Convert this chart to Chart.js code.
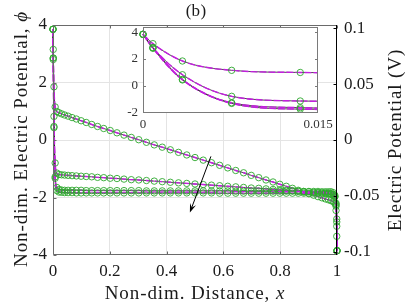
<!DOCTYPE html>
<html><head><meta charset="utf-8">
<script src="https://cdn.jsdelivr.net/npm/chart.js@4.4.0/dist/chart.umd.min.js"></script>
<style>
html,body{margin:0;padding:0;background:#fff;}
#wrap{position:relative;width:407px;height:305px;overflow:hidden;}
#wrap canvas{position:absolute;left:0;top:0;}
</style></head><body>
<div id="wrap"><canvas id="main" width="407" height="305"></canvas><canvas id="inset" width="407" height="305"></canvas></div>
<script>
// ---- data ----
const xMesh = [0, 0.00085, 0.00338, 0.0076, 0.01348, 0.02101, 0.03015, 0.0409, 0.05319, 0.06699,
  0.08226, 0.09894, 0.11698, 0.13631, 0.15688, 0.17861, 0.20142, 0.22525, 0.25, 0.2756,
  0.30196, 0.32899, 0.3566, 0.3847, 0.41318, 0.44195, 0.47093, 0.5, 0.52907, 0.55805,
  0.58682, 0.6153, 0.6434, 0.67101, 0.69804, 0.7244, 0.75, 0.77475, 0.79858, 0.82139,
  0.84312, 0.86369, 0.88302, 0.90106, 0.91774, 0.93301, 0.94681, 0.9591, 0.96985, 0.97899,
  0.98652, 0.9924, 0.99662, 0.99915, 1];
const phiA = [3.85, 3.15, 1.85, 1.15, 0.99, 0.95, 0.91, 0.87, 0.83, 0.78,
  0.73, 0.67, 0.61, 0.54, 0.47, 0.40, 0.33, 0.25, 0.17, 0.09,
  0.01, -0.08, -0.17, -0.25, -0.34, -0.43, -0.52, -0.61, -0.70, -0.79,
  -0.88, -0.97, -1.06, -1.14, -1.23, -1.31, -1.39, -1.46, -1.54, -1.61,
  -1.68, -1.75, -1.81, -1.87, -1.92, -1.97, -2.01, -2.05, -2.08, -2.11,
  -2.14, -2.20, -2.45, -3.35, -3.85];
const phiB = [3.85, 2.85, 0.82, -0.80, -1.15, -1.20, -1.21, -1.22, -1.23, -1.24,
  -1.25, -1.26, -1.27, -1.28, -1.30, -1.31, -1.33, -1.34, -1.36, -1.38,
  -1.39, -1.41, -1.43, -1.45, -1.47, -1.49, -1.51, -1.53, -1.55, -1.57,
  -1.59, -1.61, -1.63, -1.65, -1.67, -1.68, -1.70, -1.72, -1.73, -1.75,
  -1.76, -1.78, -1.79, -1.80, -1.82, -1.83, -1.84, -1.85, -1.87, -1.88,
  -1.91, -1.98, -2.25, -2.85, -3.85];
const phiC = [3.85, 2.85, 0.47, -1.28, -1.65, -1.72, -1.74, -1.75, -1.75, -1.75,
  -1.75, -1.75, -1.76, -1.76, -1.76, -1.76, -1.76, -1.76, -1.76, -1.76,
  -1.76, -1.77, -1.77, -1.77, -1.77, -1.77, -1.77, -1.77, -1.77, -1.77,
  -1.77, -1.77, -1.78, -1.78, -1.78, -1.78, -1.78, -1.78, -1.78, -1.78,
  -1.78, -1.79, -1.79, -1.79, -1.79, -1.79, -1.80, -1.80, -1.80, -1.80,
  -1.83, -1.92, -2.20, -2.75, -3.85];
const phiD = [3.85, 2.80, 0.43, -1.33, -1.76, -1.81, -1.82, -1.83, -1.83, -1.83,
  -1.84, -1.84, -1.84, -1.84, -1.84, -1.84, -1.84, -1.84, -1.84, -1.84,
  -1.84, -1.84, -1.84, -1.84, -1.84, -1.84, -1.84, -1.84, -1.84, -1.84,
  -1.85, -1.85, -1.85, -1.85, -1.85, -1.85, -1.85, -1.85, -1.85, -1.85,
  -1.85, -1.85, -1.85, -1.85, -1.85, -1.85, -1.85, -1.85, -1.85, -1.86,
  -1.89, -1.97, -2.30, -3.00, -3.85];
const leftTicks = [-4, -2, 0, 2, 4];
const leftTickLabels = ['-4', '-2', '0', '2', '4'];
const xTicks = [0, 0.2, 0.4, 0.6, 0.8, 1];
const xTickLabels = ['0', '0.2', '0.4', '0.6', '0.8', '1'];
const rightTicks = [-0.1, -0.05, 0, 0.05, 0.1];
const rightTickLabels = ['-0.1', '-0.05', '0', '0.05', '0.1'];
const insetXTicks = [0, 0.015];
const insetXTickLabels = ['0', '0.015'];
const insetYTicks = [-2, 0, 2, 4];
const insetYTickLabels = ['-2', '0', '2', '4'];
const thermalVoltage = 0.02569; // V per unit of phi
const arrowFrom = {x: 0.556, y: -0.57};
const arrowTo = {x: 0.482, y: -2.52};

// ---- styles ----
const SERIF = '"Liberation Serif", "DejaVu Serif", serif';
const TXT = '#1a1a1a';
const GREEN = '#2ea82e';
const MAGENTA = '#c41ee0';

const curves = [phiA, phiB, phiC, phiD];
function pts(ys) { return xMesh.map((x, i) => ({x: x, y: ys[i]})); }
function makeDatasets(clip) {
  const ds = [];
  curves.forEach(c => {
    ds.push({data: pts(c), borderColor: '#222', borderWidth: 0.8, pointRadius: 0,
      cubicInterpolationMode: 'monotone', order: 3, clip: clip});
    ds.push({data: pts(c), borderColor: MAGENTA, borderWidth: 1.4, borderDash: [7, 2], pointRadius: 0,
      cubicInterpolationMode: 'monotone', order: 2, clip: clip});
    ds.push({data: pts(c), showLine: false, pointRadius: 3.2, pointBorderWidth: 0.9,
      pointBorderColor: GREEN, pointBackgroundColor: 'rgba(0,0,0,0)', borderColor: GREEN,
      backgroundColor: 'rgba(0,0,0,0)', order: 1, clip: clip});
  });
  return ds;
}
function setTicks(arr) { return s => { s.ticks = arr.map(v => ({value: v})); }; }
function labelFrom(ticks, labels) { return v => { const i = ticks.findIndex(t => Math.abs(t - v) < 1e-9); return i >= 0 ? labels[i] : ''; }; }

function richDraw(ctx, parts, x, y, rot, size, spacing) {
  ctx.save();
  ctx.translate(x, y); ctx.rotate(rot);
  ctx.textAlign = 'left'; ctx.textBaseline = 'alphabetic'; ctx.fillStyle = TXT;
  let w = 0;
  parts.forEach(p => { ctx.font = (p.it ? 'italic ' : '') + size + 'px ' + SERIF; ctx.letterSpacing = spacing + 'px'; w += ctx.measureText(p.t).width; });
  let cx = -w / 2;
  parts.forEach(p => { ctx.font = (p.it ? 'italic ' : '') + size + 'px ' + SERIF; ctx.letterSpacing = spacing + 'px'; ctx.fillText(p.t, cx, 0); cx += ctx.measureText(p.t).width; });
  ctx.restore();
}
function seg(ctx, x1, y1, x2, y2) { ctx.beginPath(); ctx.moveTo(x1, y1); ctx.lineTo(x2, y2); ctx.stroke(); }

const mainDecor = {
  id: 'mainDecor',
  afterDatasetsDraw(chart) {
    const ctx = chart.ctx, a = chart.chartArea, xs = chart.scales.x, ys = chart.scales.y, y2 = chart.scales.y2;
    ctx.save();
    ctx.lineWidth = 1;
    // arrow
    const x1 = xs.getPixelForValue(arrowFrom.x), yy1 = ys.getPixelForValue(arrowFrom.y);
    const x2 = xs.getPixelForValue(arrowTo.x), yy2 = ys.getPixelForValue(arrowTo.y);
    ctx.strokeStyle = '#000'; ctx.fillStyle = '#000';
    const ang = Math.atan2(yy2 - yy1, x2 - x1), L = 9, W = 3.2;
    seg(ctx, x1, yy1, x2 - Math.cos(ang) * 5, yy2 - Math.sin(ang) * 5);
    ctx.beginPath();
    ctx.moveTo(x2, yy2);
    ctx.lineTo(x2 - L * Math.cos(ang) + W * Math.sin(ang), yy2 - L * Math.sin(ang) - W * Math.cos(ang));
    ctx.lineTo(x2 - 0.6 * L * Math.cos(ang), yy2 - 0.6 * L * Math.sin(ang));
    ctx.lineTo(x2 - L * Math.cos(ang) - W * Math.sin(ang), yy2 - L * Math.sin(ang) + W * Math.cos(ang));
    ctx.closePath(); ctx.fill();
    // box
    const l = Math.round(a.left) + 0.5, r = Math.round(a.right) - 0.5, t = Math.round(a.top) + 0.5, b = Math.round(a.bottom) - 0.5;
    ctx.strokeStyle = '#6a6a6a';
    seg(ctx, l, t, r, t); seg(ctx, l, b, r, b); seg(ctx, l, t, l, b);
    xTicks.forEach(v => { const px = Math.round(xs.getPixelForValue(v)) + 0.5; seg(ctx, px, b, px, b - 3); seg(ctx, px, t, px, t + 3); });
    leftTicks.forEach(v => { const py = Math.round(ys.getPixelForValue(v)) + 0.5; seg(ctx, l, py, l + 3, py); });
    ctx.strokeStyle = '#000';
    seg(ctx, r, t - 0.5, r, b + 0.5);
    rightTicks.forEach(v => { const py = Math.round(y2.getPixelForValue(v)) + 0.5; seg(ctx, r, py, r - 3, py); });
    ctx.restore();
  },
  afterDraw(chart) {
    const ctx = chart.ctx, a = chart.chartArea;
    const cx = (a.left + a.right) / 2, cy = (a.top + a.bottom) / 2;
    richDraw(ctx, [{t: '(b)'}], cx + 1, 16, 0, 17, 0.3);
    richDraw(ctx, [{t: 'Non-dim. Distance, '}, {t: 'x', it: true}], cx, 299, 0, 19, 0.9);
    richDraw(ctx, [{t: 'Non-dim. Electric Potential, '}, {t: 'ϕ', it: true}], 27, cy - 1, -Math.PI / 2, 19, 0.9);
    richDraw(ctx, [{t: 'Electric Potential (V)'}], 401, cy, -Math.PI / 2, 19, 0.9);
  }
};

const edgeGrid = (edges) => ctx => (ctx.tick && edges.some(e => Math.abs(e - ctx.tick.value) < 1e-9)) ? 'rgba(0,0,0,0)' : '#e4e4e4';

new Chart(document.getElementById('main'), {
  type: 'line',
  data: {datasets: makeDatasets(false)},
  options: {
    responsive: false, animation: false, devicePixelRatio: 1, events: [],
    layout: {padding: {top: 25, left: 0, right: 0, bottom: 0}},
    plugins: {legend: {display: false}, tooltip: {enabled: false}, title: {display: false}},
    scales: {
      x: {type: 'linear', min: 0, max: 1, afterBuildTicks: setTicks(xTicks),
        afterFit: s => { s.height = 50; },
        ticks: {callback: labelFrom(xTicks, xTickLabels), font: {family: SERIF, size: 17}, color: TXT, padding: 6, maxRotation: 0, autoSkip: false},
        grid: {color: edgeGrid([0, 1]), drawTicks: false, lineWidth: 1}, border: {display: false}},
      y: {type: 'linear', position: 'left', min: -4, max: 4, afterBuildTicks: setTicks(leftTicks),
        afterFit: s => { s.width = 53; },
        ticks: {callback: labelFrom(leftTicks, leftTickLabels), font: {family: SERIF, size: 17}, color: TXT, padding: 6},
        grid: {color: edgeGrid([-4, 4]), drawTicks: false, lineWidth: 1}, border: {display: false}},
      y2: {type: 'linear', position: 'right', min: -4 * thermalVoltage, max: 4 * thermalVoltage,
        afterBuildTicks: setTicks(rightTicks), afterFit: s => { s.width = 70; },
        ticks: {callback: labelFrom(rightTicks, rightTickLabels), font: {family: SERIF, size: 17}, color: TXT, padding: 7},
        grid: {display: false, drawTicks: false}, border: {display: false}}
    }
  },
  plugins: [mainDecor]
});

const insetDecor = {
  id: 'insetDecor',
  beforeDatasetsDraw(chart) {
    const ctx = chart.ctx, a = chart.chartArea;
    ctx.save(); ctx.fillStyle = '#fff'; ctx.fillRect(a.left, a.top, a.right - a.left, a.bottom - a.top); ctx.restore();
  },
  afterDatasetsDraw(chart) {
    const ctx = chart.ctx, a = chart.chartArea, ys = chart.scales.y;
    ctx.save(); ctx.lineWidth = 1; ctx.strokeStyle = '#7a7a7a';
    const l = Math.round(a.left) + 0.5, r = Math.round(a.right) - 0.5, t = Math.round(a.top) + 0.5, b = Math.round(a.bottom) - 0.5;
    ctx.strokeRect(l, t, r - l, b - t);
    insetYTicks.forEach(v => { const py = Math.round(ys.getPixelForValue(v)) + 0.5; seg(ctx, l, py, l + 2.5, py); seg(ctx, r, py, r - 2.5, py); });
    ctx.restore();
  }
};

new Chart(document.getElementById('inset'), {
  type: 'line',
  data: {datasets: makeDatasets({left: 4, top: 4, right: 0, bottom: 0})},
  options: {
    responsive: false, animation: false, devicePixelRatio: 1, events: [],
    layout: {padding: {top: 27, left: 0, right: 89, bottom: 0}},
    plugins: {legend: {display: false}, tooltip: {enabled: false}},
    scales: {
      x: {type: 'linear', min: 0, max: 0.015, afterBuildTicks: setTicks(insetXTicks),
        afterFit: s => { s.height = 192; },
        ticks: {callback: labelFrom(insetXTicks, insetXTickLabels), font: {family: SERIF, size: 13}, color: '#333', padding: 4, maxRotation: 0, autoSkip: false},
        grid: {display: false, drawTicks: false}, border: {display: false}},
      y: {type: 'linear', min: -2.05, max: 4.4, afterBuildTicks: setTicks(insetYTicks),
        afterFit: s => { s.width = 143; },
        ticks: {callback: labelFrom(insetYTicks, insetYTickLabels), font: {family: SERIF, size: 13}, color: '#333', padding: 5},
        grid: {display: false, drawTicks: false}, border: {display: false}}
    }
  },
  plugins: [insetDecor]
});
</script>
</body></html>
